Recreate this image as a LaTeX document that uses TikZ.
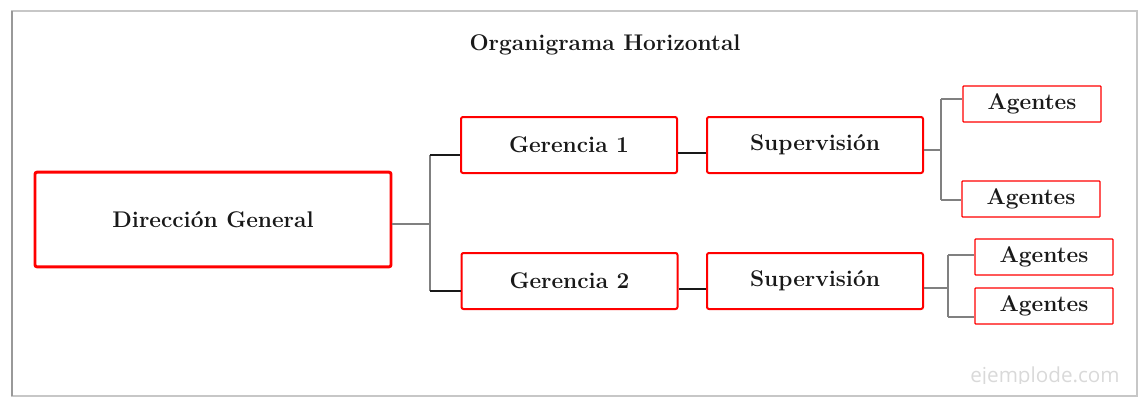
\documentclass[tikz,border=0pt]{standalone}
\usepackage{fontspec}
\newfontfamily\markfont{Open Sans}
\usetikzlibrary{calc}
\begin{document}
\begin{tikzpicture}[x=0.75pt,y=-0.75pt,
  lbl/.style={font=\fontsize{17}{20}\selectfont\bfseries, text=black!90},
  boxbase/.style={lbl, rectangle, rounded corners=1.5pt, draw=red, fill=white, inner sep=0pt, anchor=center},
  bigbox/.style={boxbase, line width=2.2pt, minimum width=267pt, minimum height=71pt},
  midbox/.style={boxbase, line width=1.5pt, minimum width=162pt, minimum height=42pt},
  smallbox/.style={boxbase, rounded corners=0.5pt, line width=0.9pt, minimum width=103.5pt, minimum height=27pt},
  greyline/.style={draw=black!50, line width=1.1pt},
  darkline/.style={draw=black!90, line width=1.5pt}]
  \useasboundingbox (0,0) rectangle (1141,397);
  % page frame with a soft left edge
  \draw[black!22, line width=0.8pt] (12,11) rectangle (1137,396);
  \draw[black!40, line width=2pt] (12,11) -- (12,396);
  % title
  \node[lbl] (title) at (605,45) {Organigrama Horizontal};
  % boxes
  \node[bigbox]   (dg) at (213,219.5) {Dirección General};
  \node[midbox]   (g1) at (569,145)   {Gerencia 1};
  \node[midbox]   (g2) at (569.5,281) {Gerencia 2};
  \node[midbox]   (s1) at (815,145)   {Supervisión};
  \node[midbox]   (s2) at (815,281)   {Supervisión};
  \node[smallbox] (a1) at (1032,104)  {Agentes};
  \node[smallbox] (a2) at (1031,199)  {Agentes};
  \node[smallbox] (a3) at (1044,257)  {Agentes};
  \node[smallbox] (a4) at (1044,306)  {Agentes};
  % junction points
  \coordinate (jd)  at (430,224);
  \coordinate (jd1) at (430,155);
  \coordinate (jd2) at (430,291);
  \coordinate (jg1) at (0,153);
  \coordinate (jg2) at (0,289);
  \coordinate (js1) at (941,150);
  \coordinate (ja1) at (941,99);
  \coordinate (ja2) at (941,200);
  \coordinate (js2) at (948,288);
  \coordinate (ja3) at (948,255);
  \coordinate (ja4) at (948,317);
  % connectors: direction to gerencias
  \draw[greyline] (dg.east |- jd) -- (jd);
  \draw[greyline] (jd1) -- (jd2);
  \draw[darkline] (jd1) -- (g1.west |- jd1);
  \draw[darkline] (jd2) -- (g2.west |- jd2);
  % gerencias to supervision
  \draw[darkline] (g1.east |- jg1) -- (s1.west |- jg1);
  \draw[darkline] (g2.east |- jg2) -- (s2.west |- jg2);
  % supervision to agents
  \draw[greyline] (s1.east |- js1) -- (js1);
  \draw[greyline] (ja1) -- (ja2);
  \draw[greyline] (ja1) -- (a1.west |- ja1);
  \draw[greyline] (ja2) -- (a2.west |- ja2);
  \draw[greyline] (s2.east |- js2) -- (js2);
  \draw[greyline] (ja3) -- (ja4);
  \draw[greyline] (ja3) -- (a3.west |- ja3);
  \draw[greyline] (ja4) -- (a4.west |- ja4);
  % watermark
  \begin{scope}
    \clip (900,340) rectangle (1136,383);
    \node[font=\markfont\fontsize{15.5}{18}\selectfont, text=black!15, anchor=base] (mark) at (1045,382) {ejemplode.com};
  \end{scope}
\end{tikzpicture}
\end{document}
